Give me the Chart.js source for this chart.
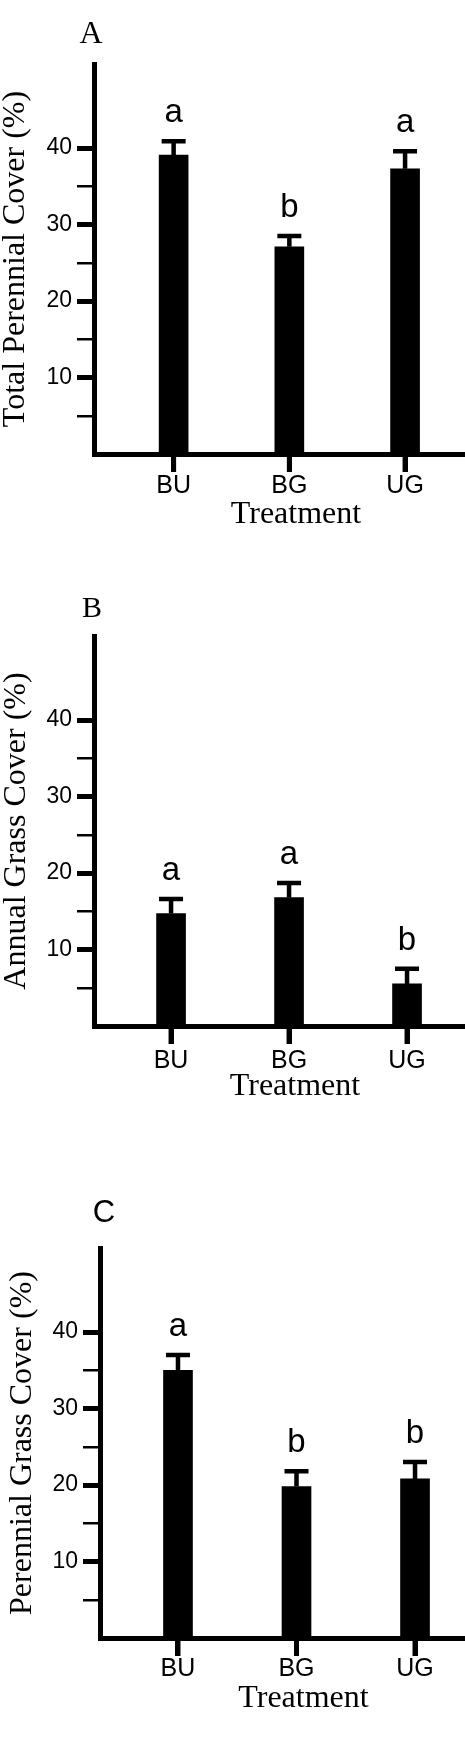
<!DOCTYPE html>
<html>
<head>
<meta charset="utf-8">
<script src="https://cdn.jsdelivr.net/npm/chart.js@4.4.1/dist/chart.umd.min.js"></script>
<style>
  html, body { margin: 0; padding: 0; background: #fff; }
  body { width: 465px; height: 1758px; overflow: hidden; position: relative; }
  canvas { position: absolute; left: 0; }
</style>
</head>
<body>
<canvas id="chartA" width="498" height="534" style="top:0px"></canvas>
<canvas id="chartB" width="496" height="534" style="top:572px"></canvas>
<canvas id="chartC" width="507" height="534" style="top:1184px"></canvas>
<script>
const treatments = ['BU', 'BG', 'UG'];
const yTicks = [5, 10, 15, 20, 25, 30, 35, 40];

// A - total perennial cover
const totalPerennial = [39.1, 27.1, 37.3];
const totalPerennialSE = [1.8, 1.4, 2.3];
const totalPerennialLetters = ['a', 'b', 'a'];

// B - annual grass cover
const annualGrass = [14.7, 16.8, 5.5];
const annualGrassSE = [1.9, 1.9, 2.0];
const annualGrassLetters = ['a', 'a', 'b'];

// C - perennial grass cover
const perennialGrass = [35.0, 19.8, 20.8];
const perennialGrassSE = [2.0, 2.0, 2.2];
const perennialGrassLetters = ['a', 'b', 'b'];

const serif = '"Liberation Serif", "Times New Roman", serif';
const sans = '"Liberation Sans", Arial, sans-serif';

// error bars, significance letters, x tick marks and the panel letter
const errorBars = {
  id: 'errorBars',
  afterDatasetsDraw(chart, args, opts) {
    const ctx = chart.ctx;
    const area = chart.chartArea;
    const yScale = chart.scales.y;
    const meta = chart.getDatasetMeta(0);
    ctx.save();
    ctx.strokeStyle = '#000';
    ctx.fillStyle = '#000';
    meta.data.forEach((bar, i) => {
      const v = chart.data.datasets[0].data[i].y;
      const top = yScale.getPixelForValue(v + opts.se[i]);
      ctx.lineWidth = 4.5;
      ctx.beginPath();
      ctx.moveTo(bar.x, bar.y);
      ctx.lineTo(bar.x, top);
      ctx.moveTo(bar.x - 12, top);
      ctx.lineTo(bar.x + 12, top);
      ctx.stroke();
      // tick mark under the bar
      ctx.lineWidth = 5;
      ctx.beginPath();
      ctx.moveTo(bar.x, area.bottom);
      ctx.lineTo(bar.x, area.bottom + 18);
      ctx.stroke();
      ctx.font = '33px ' + sans;
      ctx.textAlign = 'center';
      ctx.textBaseline = 'alphabetic';
      ctx.fillText(opts.letters[i], bar.x, top - 19);
    });
    ctx.font = opts.panelFont;
    ctx.textAlign = 'center';
    ctx.textBaseline = 'alphabetic';
    ctx.fillText(opts.panel, area.left + opts.panelDx, area.top - opts.panelDy);
    ctx.restore();
  }
};

function makePanel(id, cfg) {
  return new Chart(document.getElementById(id), {
    type: 'bar',
    data: {
      datasets: [{
        data: cfg.values.map((v, i) => ({ x: i + 1, y: v })),
        backgroundColor: '#000',
        borderWidth: 0,
        barThickness: 29
      }]
    },
    options: {
      responsive: false,
      animation: false,
      layout: { padding: { top: 64, left: 0, right: 0, bottom: 0 } },
      plugins: {
        legend: { display: false },
        tooltip: { enabled: false },
        errorBars: {
          se: cfg.se,
          letters: cfg.letters,
          panel: cfg.panel,
          panelFont: cfg.panelFont,
          panelDx: cfg.panelDx,
          panelDy: cfg.panelDy
        }
      },
      scales: {
        x: {
          type: 'linear',
          bounds: 'data',
          offset: false,
          min: cfg.xMin,
          max: cfg.xMax,
          afterBuildTicks: s => { s.ticks = treatments.map((t, i) => ({ value: i + 1 })); },
          afterFit: s => { s.height = 80; },
          ticks: {
            callback: v => treatments[v - 1],
            color: '#000',
            font: { family: sans, size: 25, lineHeight: 1 },
            padding: cfg.xLabelPad,
            maxRotation: 0,
            autoSkip: false
          },
          grid: { offset: false, drawOnChartArea: false, tickLength: 18, lineWidth: 5, color: '#000' },
          border: { display: true, width: 5, color: '#000' },
          title: {
            display: true,
            text: 'Treatment',
            color: '#000',
            font: { family: serif, size: 32, lineHeight: 1 },
            padding: { top: 0, bottom: 3 }
          }
        },
        y: {
          bounds: 'data',
          min: 0,
          max: 51,
          afterBuildTicks: s => { s.ticks = yTicks.map(v => ({ value: v })); },
          afterFit: s => { s.width = cfg.yWidth; },
          ticks: {
            callback: v => (v % 10 === 0 ? String(v) : ''),
            color: '#000',
            font: { family: sans, size: 23 },
            padding: 5,
            autoSkip: false
          },
          grid: {
            drawOnChartArea: false,
            tickLength: 17,
            lineWidth: c => (c.tick && c.tick.value % 10 === 0 ? 5 : 2.5),
            color: '#000'
          },
          border: { display: true, width: 5, color: '#000' },
          title: {
            display: true,
            text: cfg.yTitle,
            color: '#000',
            font: { family: serif, size: 32, lineHeight: 1 },
            padding: { top: cfg.yTitlePad, bottom: 0 }
          }
        }
      }
    },
    plugins: [errorBars]
  });
}

makePanel('chartA', {
  values: totalPerennial, se: totalPerennialSE, letters: totalPerennialLetters,
  yTitle: 'Total Perennial Cover (%)', yTitlePad: 0, yWidth: 94,
  xMin: 0.312, xMax: 3.803, xLabelPad: 2,
  panel: 'A', panelFont: '32px ' + serif, panelDx: -3, panelDy: 21
});

makePanel('chartB', {
  values: annualGrass, se: annualGrassSE, letters: annualGrassLetters,
  yTitle: 'Annual Grass Cover (%)', yTitlePad: 1, yWidth: 94,
  xMin: 0.347, xMax: 3.754, xLabelPad: 5,
  panel: 'B', panelFont: '30px ' + serif, panelDx: -2, panelDy: 19
});

makePanel('chartC', {
  values: perennialGrass, se: perennialGrassSE, letters: perennialGrassLetters,
  yTitle: 'Perennial Grass Cover (%)', yTitlePad: 7, yWidth: 100,
  xMin: 0.342, xMax: 3.776, xLabelPad: 1,
  panel: 'C', panelFont: '31px ' + sans, panelDx: 4, panelDy: 26
});
</script>
</body>
</html>
